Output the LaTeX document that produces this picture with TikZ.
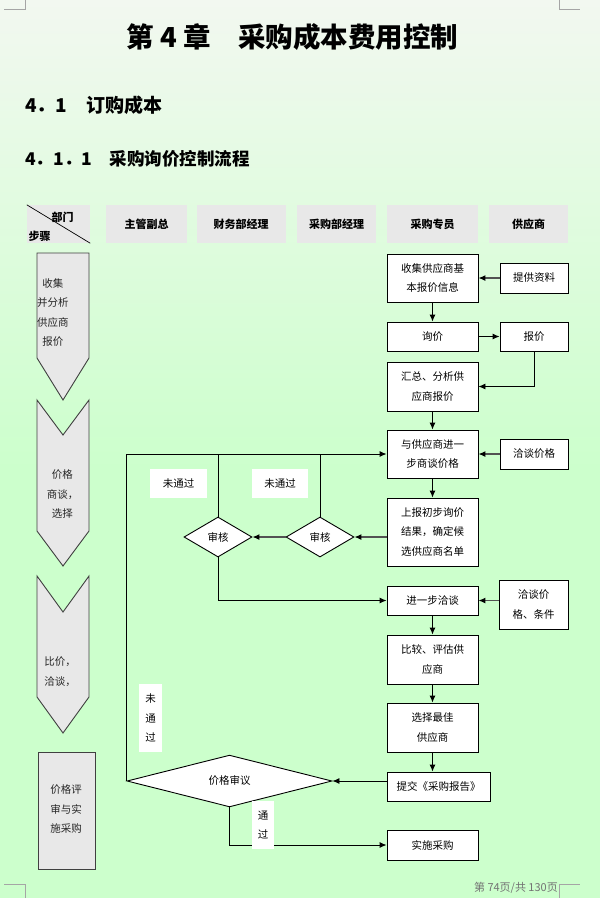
\documentclass[tikz,border=0pt]{standalone}
\usepackage{fontspec}
\setmainfont{Liberation Serif}
\newfontfamily\cjk{Noto Sans CJK SC}
\usetikzlibrary{shapes.geometric,arrows.meta}
\definecolor{bgtop}{RGB}{242,248,240}
\definecolor{bgbot}{RGB}{204,255,204}
\definecolor{hdrgray}{RGB}{232,232,232}
\definecolor{markgray}{RGB}{165,165,165}
\newcommand\myBody{\cjk\fontsize{10.5}{19.5}\selectfont}
\newcommand\myHdr{\cjk\bfseries\fontsize{11}{13}\selectfont}
\begin{document}
\begin{tikzpicture}[x=1pt,y=-1pt,
 ln/.style={line width=0.9pt, draw=black},
 arr/.style={ln, -{Latex[length=7pt,width=6pt]}},
 garr/.style={line width=1.2pt, draw=black!68, -{Latex[length=7pt,width=6pt,color=black]}},
 box/.style={draw=black, line width=0.9pt, fill=white, inner sep=0pt, minimum width=91pt, align=center, font=\myBody},
 sbox/.style={box, minimum width=68pt},
 hdr/.style={fill=hdrgray, inner sep=0pt, minimum height=38pt, font=\myHdr},
 dia/.style={diamond, draw=black, fill=white, line width=0.9pt, inner sep=0pt, font=\myBody},
 lbl/.style={fill=white, inner sep=0pt, align=center, font=\myBody},
 stepshape/.style={draw=black!75, fill=hdrgray, line width=0.9pt},
 steptext/.style={align=center, font=\myBody, text=black!85, inner sep=0pt},
 cornermark/.style={draw=markgray, line width=0.6pt}
]
\useasboundingbox (0,0) rectangle (600,898);
% background
\shade[top color=bgtop, bottom color=bgbot] (0,0) rectangle (600,470);
\fill[bgbot] (0,469.5) rectangle (600,898);
% corner marks
\draw[cornermark] (4,9.5) -- (25,9.5) -- (25,0);
\draw[cornermark] (559,0) -- (559,9.5) -- (580,9.5);
\draw[cornermark] (4,884) -- (25,884) -- (25,898);
\draw[cornermark] (559,898) -- (559,884) -- (580,884);
% headings
\node[font=\cjk\bfseries\fontsize{27.5}{30}\selectfont, inner sep=0] (title) at (292.5,37) {第 4 章　采购成本费用控制};
\node[anchor=west, inner sep=0, font=\cjk\bfseries\fontsize{19}{22}\selectfont] (sec) at (25,105) {4．1　订购成本};
\node[anchor=west, inner sep=0, font=\cjk\bfseries\fontsize{17.5}{20}\selectfont] (subsec) at (25,159) {4．1．1　采购询价控制流程};
% header row
\node[hdr, minimum width=63pt] (h0) at (58.5,224) {};
\draw[line width=0.7pt] (h0.north west) -- (h0.south east);
\node[font=\myHdr, inner sep=0] (h0a) at (62.5,217) {部门};
\node[font=\myHdr, inner sep=0] (h0b) at (39.5,236) {步骤};
\node[hdr, minimum width=81pt] (h1) at (146.5,224) {主管副总};
\node[hdr, minimum width=89pt] (h2) at (241,224) {财务部经理};
\node[hdr, minimum width=79pt] (h3) at (336.5,224) {采购部经理};
\node[hdr, minimum width=91pt] (h4) at (432.5,224) {采购专员};
\node[hdr, minimum width=79pt] (h5) at (528.5,224) {供应商};
% step shapes
\draw[stepshape] (37,253) -- (89,253) -- (89,358) -- (63,400) -- (37,358) -- cycle;
\draw[stepshape] (37,400) -- (63,435) -- (89,400) -- (89,531) -- (63,566) -- (37,531) -- cycle;
\draw[stepshape] (37,576) -- (63,612) -- (89,576) -- (89,697) -- (63,733) -- (37,697) -- cycle;
\draw[stepshape] (38,752) rectangle (95,869);
\node[steptext] (t1) at (53,312.5) {收集\\并分析\\供应商\\报价};
\node[steptext] (t2) at (62.5,494.5) {价格\\商谈，\\选择};
\node[steptext] (t3) at (60,671.5) {比价，\\洽谈，};
\node[steptext] (t4) at (66,809) {价格评\\审与实\\施采购};
% flow boxes
\node[box, minimum height=48pt] (b1) at (432.5,278) {收集供应商基\\本报价信息};
\node[box, minimum height=29pt] (b2) at (432.5,336.5) {询价};
\node[box, minimum height=49pt] (b3) at (432.5,386.5) {汇总、分析供\\应商报价};
\node[box, minimum height=48pt] (b4) at (432.5,454) {与供应商进一\\步商谈价格};
\node[box, minimum height=68pt] (b5) at (432.5,532) {上报初步询价\\结果，确定候\\选供应商名单};
\node[box, minimum height=29pt] (b6) at (432.5,600.5) {进一步洽谈};
\node[box, minimum height=49pt] (b7) at (432.5,659.5) {比较、评估供\\应商};
\node[box, minimum height=49pt] (b8) at (432.5,727.5) {选择最佳\\供应商};
\node[box, minimum width=103pt, minimum height=29pt] (b9) at (438.5,786.5) {提交《采购报告》};
\node[box, minimum height=30pt] (b10) at (432.5,845) {实施采购};
% supplier boxes
\node[sbox, minimum height=30pt] (s1) at (534,278) {提供资料};
\node[sbox, minimum height=29pt] (s2) at (534,336.5) {报价};
\node[sbox, minimum height=30pt] (s3) at (534,454) {洽谈价格};
\node[sbox, minimum width=69pt, minimum height=49pt] (s4) at (533.5,604.5) {洽谈价\\格、条件};
% diamonds
\node[dia, minimum width=68pt, minimum height=40pt] (d1) at (320,537) {审核};
\node[dia, minimum width=68pt, minimum height=40pt] (d2) at (218,537) {审核};
\node[dia, minimum width=205pt, minimum height=40pt] (d3) at (229.5,781) {价格审议};
% connectors
\draw[arr] (b1) -- (b2);
\draw[garr] (s1) -- (b1);
\draw[arr] (b2) -- (s2);
\draw[arr] (s2.south) -- (s2.south |- b3.east) -- (b3.east);
\draw[arr] (b3) -- (b4);
\draw[garr] (s3) -- (b4);
\draw[arr] (b4) -- (b5);
\draw[garr] (b5.west |- d1.east) -- (d1.east);
\draw[garr] (d1.west) -- (d2.east);
\draw[ln] (d1.north) -- (d1.north |- b4.west);
\draw[ln] (d2.north) -- (d2.north |- b4.west);
\draw[arr] (d3.west) -- (d3.west |- b4.west) -- (b4.west);
\draw[arr] (d2.south) -- (d2.south |- b6.west) -- (b6.west);
\draw[garr] (s4.west |- b6.east) -- (b6.east);
\draw[arr] (b6) -- (b7);
\draw[arr] (b7) -- (b8);
\draw[arr] (b8.south) -- (b8.south |- b9.north);
\draw[arr] (b9.west |- d3.east) -- (d3.east);
\draw[arr] (d3.south) -- (d3.south |- b10.west) -- (b10.west);
% labels
\node[lbl, minimum width=57pt, minimum height=29pt] (n1) at (178.5,483.5) {未通过};
\node[lbl, minimum width=56pt, minimum height=29pt] (n2) at (280,483.5) {未通过};
\node[lbl, minimum width=23pt, minimum height=68pt] (n3) at (150.5,718) {未\\通\\过};
\node[lbl, minimum width=22pt, minimum height=48pt] (n4) at (263,825) {通\\过};
% footer
\node[anchor=east, inner sep=0, text=black!55, font=\cjk\fontsize{11}{13}\selectfont] (ft) at (558,888) {第 74页/共 130页};
\end{tikzpicture}
\end{document}
